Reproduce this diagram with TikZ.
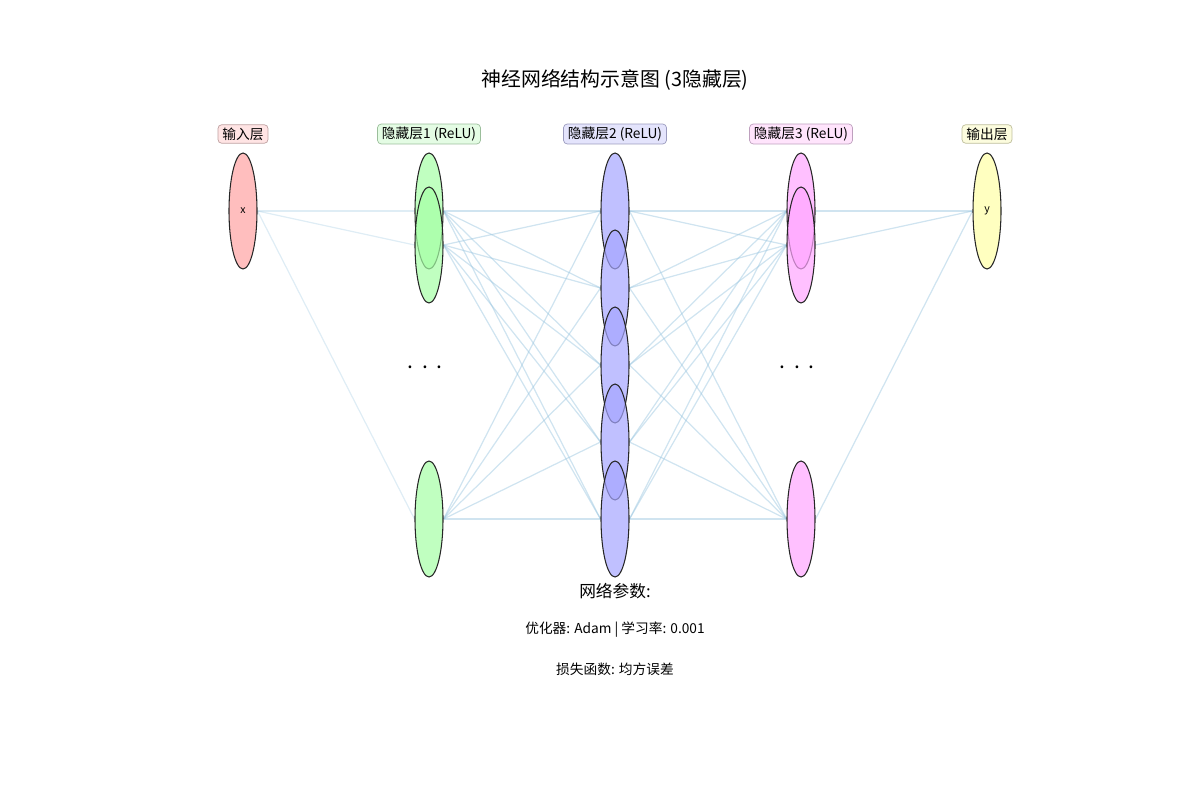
\documentclass[tikz,border=0pt]{standalone}
\usepackage{fontspec}
\setmainfont{Noto Sans CJK SC}
\usepackage{tikz}
\usetikzlibrary{shapes.geometric,backgrounds,positioning}
\definecolor{inred}{RGB}{255,162,162}
\definecolor{hgreen}{RGB}{165,255,165}
\definecolor{hblue}{RGB}{165,165,255}
\definecolor{hpink}{RGB}{255,165,255}
\definecolor{outyellow}{RGB}{255,255,165}
\definecolor{wireblue}{RGB}{150,195,222}

\begin{document}
\begin{tikzpicture}[x=0.02cm, y=-0.02cm,
        neuron/.style={ellipse, draw=black!85, line width=0.6pt, minimum width=0.56cm, minimum height=2.32cm, inner sep=0pt, fill opacity=0.7, text opacity=1, font=\fontsize{6}{7}\selectfont},
        tag/.style={draw, rounded corners=2pt, inner xsep=2.5pt, inner ysep=1.6pt, font=\fontsize{7.8}{9}\selectfont},
        wire/.style={draw=wireblue, line width=0.7pt, opacity=0.45},
        faintwire/.style={wire, opacity=0.3},
        dots/.style={font=\fontsize{12}{12}\selectfont}]
        \useasboundingbox (0,0) rectangle (1200,800);
        % title
        \node[font=\fontsize{11.3}{13}\selectfont] (title) at (615,80) {神经网络结构示意图 (3隐藏层)};
        % layer tags
        \node[tag, fill={rgb,255:red,255;green,228;blue,228}, draw={rgb,255:red,190;green,160;blue,160}] (tin) at (243,134) {输入层};
        \node[tag, fill={rgb,255:red,228;green,252;blue,228}, draw={rgb,255:red,155;green,190;blue,155}] (th1) at (429,134) {隐藏层1 (ReLU)};
        \node[tag, fill={rgb,255:red,228;green,228;blue,252}, draw={rgb,255:red,155;green,155;blue,190}] (th2) at (615,134) {隐藏层2 (ReLU)};
        \node[tag, fill={rgb,255:red,255;green,228;blue,252}, draw={rgb,255:red,190;green,160;blue,190}] (th3) at (801,134) {隐藏层3 (ReLU)};
        \node[tag, fill={rgb,255:red,252;green,252;blue,222}, draw={rgb,255:red,190;green,190;blue,155}] (tout) at (987,134) {输出层};
        % neurons
        \node[neuron, fill=inred] (in0) at (243,211) {x};
        \node[neuron, fill=hgreen] (h1a) at (429,211) {};
        \node[neuron, fill=hgreen] (h1b) at (429,245) {};
        \node[neuron, fill=hgreen] (h1z) at (429,519) {};
        \node[neuron, fill=hblue] (h2a) at (615,211) {};
        \node[neuron, fill=hblue] (h2b) at (615,288) {};
        \node[neuron, fill=hblue] (h2c) at (615,365) {};
        \node[neuron, fill=hblue] (h2d) at (615,442) {};
        \node[neuron, fill=hblue] (h2e) at (615,519) {};
        \node[neuron, fill=hpink] (h3a) at (801,211) {};
        \node[neuron, fill=hpink] (h3b) at (801,245) {};
        \node[neuron, fill=hpink] (h3z) at (801,519) {};
        \node[neuron, fill=outyellow] (out0) at (987,211) {y};
        \node[dots] (d1) at (425,367) {.\hspace{5pt}.\hspace{5pt}.};
        \node[dots] (d3) at (797,367) {.\hspace{5pt}.\hspace{5pt}.};
        % connections
        \begin{scope}[on background layer]
            \foreach \b in {h1a,h1b,h1z}
                \draw[faintwire] (in0.east) -- (\b.west);
            \foreach \a in {h1a,h1b,h1z}
                \foreach \b in {h2a,h2b,h2c,h2d,h2e}
                    \draw[wire] (\a.east) -- (\b.west);
            \foreach \a in {h2a,h2b,h2c,h2d,h2e}
                \foreach \b in {h3a,h3b,h3z}
                    \draw[wire] (\a.east) -- (\b.west);
            \foreach \a in {h3a,h3b,h3z}
                \draw[wire] (\a.east) -- (out0.west);
        \end{scope}
        % parameters
        \node[font=\fontsize{9.5}{11}\selectfont] (ptitle) at (615,591) {网络参数:};
        \node[font=\fontsize{7.8}{9}\selectfont] (popt) at (615,630) {优化器: Adam | 学习率: 0.001};
        \node[font=\fontsize{7.8}{9}\selectfont] (ploss) at (615,669) {损失函数: 均方误差};
    \end{tikzpicture}
\end{document}
